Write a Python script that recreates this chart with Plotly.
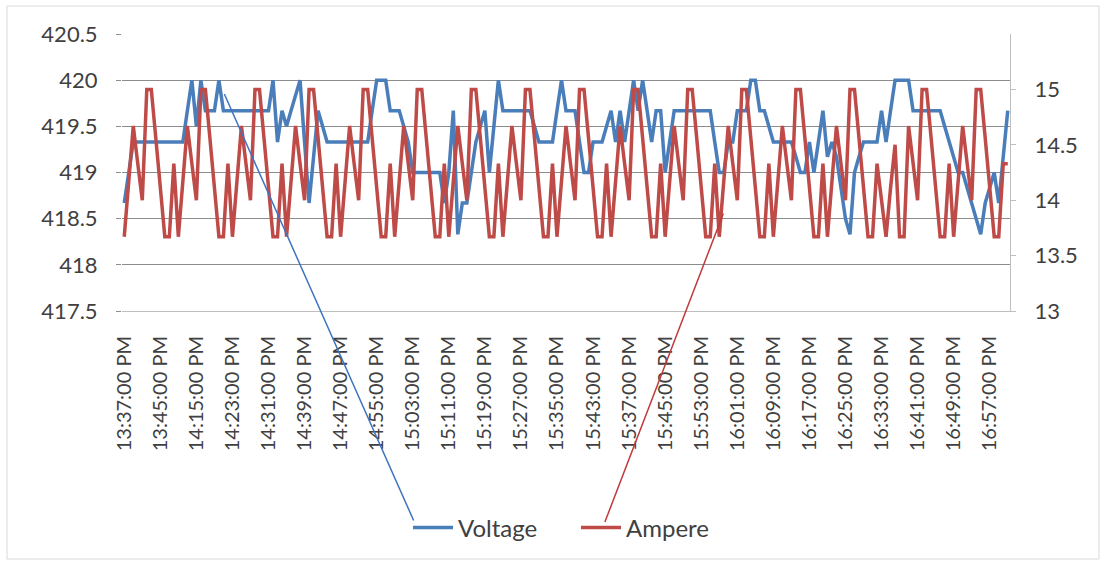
from datetime import datetime, timedelta
import plotly.graph_objects as go

# Logged readings: three runs of one-minute samples
SEGMENT_STARTS = ["13:37", "14:15", "15:37"]
SEGMENT_LENGTHS = [16, 96, 85]

voltage = [
    418.67, 419.0, 419.33, 419.33, 419.33, 419.33, 419.33, 419.33, 419.33, 419.33, 419.33, 419.33,
    419.33, 419.33, 419.67, 420.0, 419.5, 420.0, 419.67, 419.67, 419.67, 420.0, 419.67, 419.67,
    419.67, 419.67, 419.67, 419.67, 419.67, 419.67, 419.67, 419.67, 419.67, 420.0, 419.33, 419.67,
    419.5, 419.67, 419.83, 420.0, 419.33, 418.67, 419.17, 419.67, 419.5, 419.33, 419.33, 419.33,
    419.33, 419.33, 419.33, 419.33, 419.33, 419.33, 419.33, 419.67, 420.0, 420.0, 420.0, 419.67,
    419.67, 419.67, 419.5, 419.33, 419.0, 419.0, 419.0, 419.0, 419.0, 419.0, 419.0, 418.67,
    419.0, 419.67, 418.33, 418.67, 418.67, 419.0, 419.33, 419.5, 419.67, 419.0, 419.5, 420.0,
    419.67, 419.67, 419.67, 419.67, 419.67, 419.67, 419.67, 419.5, 419.33, 419.33, 419.33, 419.33,
    419.67, 420.0, 419.67, 419.67, 419.67, 419.33, 419.0, 419.0, 419.33, 419.33, 419.33, 419.5,
    419.67, 419.33, 419.67, 419.33, 419.67, 420.0, 419.67, 420.0, 419.67, 419.33, 419.67, 419.67,
    419.0, 419.33, 419.67, 419.67, 419.67, 419.67, 419.67, 419.67, 419.67, 419.67, 419.67, 419.33,
    419.0, 419.0, 419.33, 419.33, 419.67, 419.67, 419.67, 420.0, 420.0, 419.67, 419.67, 419.5,
    419.33, 419.33, 419.33, 419.33, 419.33, 419.17, 419.0, 419.0, 419.33, 419.0, 419.33, 419.67,
    419.17, 419.33, 419.17, 418.83, 418.5, 418.33, 419.0, 419.17, 419.33, 419.33, 419.33, 419.33,
    419.67, 419.33, 419.67, 420.0, 420.0, 420.0, 420.0, 419.67, 419.67, 419.67, 419.67, 419.67,
    419.67, 419.67, 419.5, 419.33, 419.17, 419.0, 419.0, 418.83, 418.67, 418.5, 418.33, 418.67,
    418.83, 419.0, 418.67, 419.17, 419.67,
]

ampere = [
    13.67, 14.17, 14.67, 14.33, 14.0, 15.0, 15.0, 14.56, 14.11, 13.67, 13.67, 14.33,
    13.67, 14.17, 14.67, 14.33, 14.0, 15.0, 15.0, 14.56, 14.11, 13.67, 13.67, 14.33,
    13.67, 14.17, 14.67, 14.33, 14.0, 15.0, 15.0, 14.56, 14.11, 13.67, 13.67, 14.33,
    13.67, 14.17, 14.67, 14.33, 14.0, 15.0, 15.0, 14.56, 14.11, 13.67, 13.67, 14.33,
    13.67, 14.17, 14.67, 14.33, 14.0, 15.0, 15.0, 14.56, 14.11, 13.67, 13.67, 14.33,
    13.67, 14.17, 14.67, 14.33, 14.0, 15.0, 15.0, 14.56, 14.11, 13.67, 13.67, 14.33,
    13.67, 14.17, 14.67, 14.33, 14.0, 15.0, 15.0, 14.56, 14.11, 13.67, 13.67, 14.33,
    13.67, 14.17, 14.67, 14.33, 14.0, 15.0, 15.0, 14.56, 14.11, 13.67, 13.67, 14.33,
    13.67, 14.17, 14.67, 14.33, 14.0, 15.0, 15.0, 14.56, 14.11, 13.67, 13.67, 14.33,
    13.67, 14.17, 14.67, 14.33, 14.0, 15.0, 15.0, 14.56, 14.11, 13.67, 13.67, 14.33,
    13.67, 14.17, 14.67, 14.33, 14.0, 15.0, 15.0, 14.56, 14.11, 13.67, 13.67, 14.33,
    13.67, 14.17, 14.67, 14.33, 14.0, 15.0, 15.0, 14.56, 14.11, 13.67, 13.67, 14.33,
    13.67, 14.17, 14.67, 14.33, 14.0, 15.0, 15.0, 14.56, 14.11, 13.67, 13.67, 14.33,
    13.67, 14.17, 14.67, 14.33, 14.0, 15.0, 15.0, 14.56, 14.11, 13.67, 13.67, 14.33,
    14.0, 13.67, 14.11, 14.5, 13.67, 13.67, 14.67, 14.33, 14.0, 15.0, 15.0, 14.56,
    14.11, 13.67, 13.67, 14.33, 13.67, 14.17, 14.67, 14.33, 14.0, 15.0, 15.0, 14.56,
    14.11, 13.67, 13.67, 14.33, 14.33,
]

VOLT_TICKS = [417.5, 418, 418.5, 419, 419.5, 420, 420.5]
VOLT_TICK_TEXT = ["417.5", "418", "418.5", "419", "419.5", "420", "420.5"]
AMP_TICKS = [13, 13.5, 14, 14.5, 15]
AMP_TICK_TEXT = ["13", "13.5", "14", "14.5", "15"]
LABEL_EVERY = 8

# time stamps for each sample
times = []
for start, count in zip(SEGMENT_STARTS, SEGMENT_LENGTHS):
    t0 = datetime.strptime(start, "%H:%M")
    for k in range(count):
        times.append((t0 + timedelta(minutes=k)).strftime("%H:%M:00 PM"))

idx = list(range(len(times)))
tick_idx = idx[::LABEL_EVERY]
tick_text = [times[i] for i in tick_idx]

BLUE = "#4A7EBB"
RED = "#BE4B48"
TEXT = "#404040"
FONT = "Lato"

W, H = 1105, 565
L, R, T, B = 122, 95, 34, 254
PW, PH = W - L - R, H - T - B


def px_x(px):
    return (px - L) / PW


def px_y(py):
    return (H - B - py) / PH


fig = go.Figure()
fig.add_trace(go.Scatter(
    x=idx, y=voltage, name="Voltage", mode="lines",
    line=dict(color=BLUE, width=3.5), customdata=times,
))
fig.add_trace(go.Scatter(
    x=idx, y=ampere, name="Ampere", mode="lines", yaxis="y2",
    line=dict(color=RED, width=3.5), customdata=times,
))

# callout lines running from the legend keys up to each series
fig.add_annotation(
    x=22.2, y=419.85, xref="x", yref="y", text="",
    showarrow=True, arrowhead=0, arrowwidth=1.5, arrowcolor="#3F74C0",
    ax=190, ay=428, axref="pixel", ayref="pixel",
)
fig.add_annotation(
    x=132.9, y=13.88, xref="x", yref="y2", text="",
    showarrow=True, arrowhead=0, arrowwidth=1.5, arrowcolor="#C0393B",
    ax=-119, ay=310, axref="pixel", ayref="pixel",
)

# chart frame
fig.add_shape(
    type="rect", xref="paper", yref="paper",
    x0=px_x(7), x1=px_x(1099), y0=px_y(559), y1=px_y(6),
    line=dict(color="#D9D9D9", width=1), fillcolor="rgba(0,0,0,0)", layer="below",
)

fig.update_layout(
    width=W, height=H,
    margin=dict(l=L, r=R, t=T, b=B, autoexpand=False),
    paper_bgcolor="white", plot_bgcolor="white",
    font=dict(family=FONT, color=TEXT),
    showlegend=True,
    legend=dict(
        orientation="h", x=px_x(408), xanchor="left", y=px_y(528), yanchor="middle",
        font=dict(family=FONT, size=24, color=TEXT), bgcolor="rgba(0,0,0,0)",
        itemwidth=40, tracegroupgap=0, entrywidth=113, entrywidthmode="pixels",
    ),
    xaxis=dict(
        range=[-0.5, len(idx) - 0.5], tickmode="array", tickvals=tick_idx, ticktext=tick_text,
        tickangle=-90, tickfont=dict(family=FONT, size=20, color=TEXT),
        showgrid=False, zeroline=False, showline=True, linecolor="#BFBFBF", linewidth=1,
        ticks="", ticklabelstandoff=16,
    ),
    yaxis=dict(
        range=[417.5, 420.5], tickmode="array", tickvals=VOLT_TICKS, ticktext=VOLT_TICK_TEXT,
        showgrid=True, gridcolor="#8C8C8C", gridwidth=1, zeroline=False, showline=False,
        ticks="outside", ticklen=5, tickcolor="#8C8C8C",
        tickfont=dict(family=FONT, size=22, color=TEXT), ticklabelstandoff=14,
    ),
    yaxis2=dict(
        range=[13, 15.5], overlaying="y", side="right", tickmode="array",
        tickvals=AMP_TICKS, ticktext=AMP_TICK_TEXT, showgrid=False, zeroline=False,
        showline=True, linecolor="#BFBFBF", linewidth=1,
        ticks="outside", ticklen=5, tickcolor="#BFBFBF",
        tickfont=dict(family=FONT, size=22, color=TEXT), ticklabelstandoff=14,
    ),
)

fig.write_html("out.html")
